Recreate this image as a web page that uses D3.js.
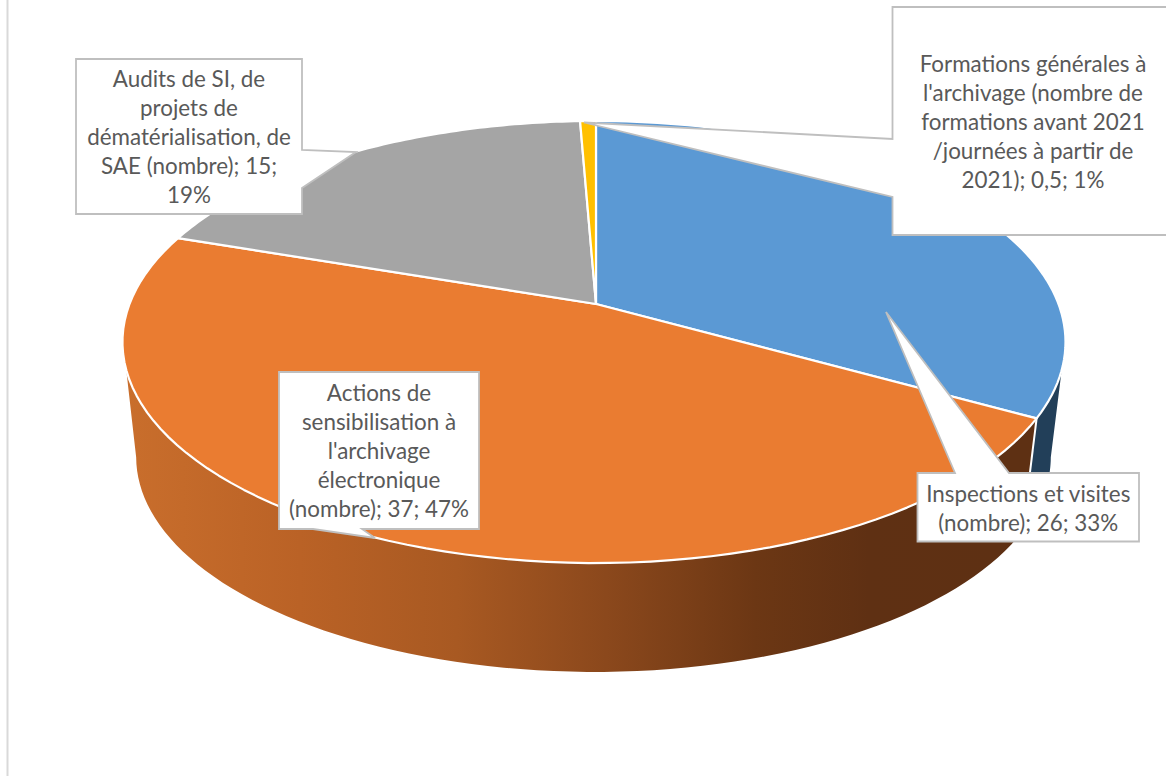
<!DOCTYPE html>
<html lang="fr">
<head>
<meta charset="utf-8">
<title>Camembert 3D</title>
<script src="https://cdn.jsdelivr.net/npm/d3@7"></script>
<style>
html,body{margin:0;padding:0;background:#fff;overflow:hidden}
svg{display:block}
text{font-family:Lato,"Open Sans",sans-serif;font-size:22.4px;fill:#595959;text-anchor:middle}
</style>
</head>
<body>
<svg id="chart" width="1166" height="776"></svg>
<script>
const categories = [
  "Inspections et visites (nombre)",
  "Actions de sensibilisation à l'archivage électronique (nombre)",
  "Audits de SI, de projets de dématérialisation, de SAE (nombre)",
  "Formations générales à l'archivage (nombre de formations avant 2021 /journées à partir de 2021)"
];
const values = [26, 37, 15, 0.5];
const topColors = ["#5B99D4", "#EA7C31", "#A5A5A5", "#FFC000"];
const labelLines = [
  ["Inspections et visites", "(nombre); 26; 33%"],
  ["Actions de", "sensibilisation à", "l'archivage", "électronique", "(nombre); 37; 47%"],
  ["Audits de SI, de", "projets de", "dématérialisation, de", "SAE (nombre); 15;", "19%"],
  ["Formations générales à", "l'archivage (nombre de", "formations avant 2021", "/journées à partir de", "2021); 0,5; 1%"]
];

const svg = d3.select("#chart");
const rad = d => d * Math.PI / 180;

// perspective projection of the disc
const persp = 0.172;
const project = (p, th) => {
  const w = 1 + persp * Math.cos(th), s = Math.sin(th);
  return [p.cx + (s < 0 ? p.aL : p.aR) * s / w, p.cy - p.b * Math.cos(th) / w];
};
const topDisc = {cx: 596, cy: 304, aL: 466.5, aR: 462.5, b: 214.5};
const lowDisc = {cx: 595, cy: 420, aL: 452, aR: 449, b: 208.6};

const sampled = (p, a0, a1) => d3.range(0, 81).map(i => project(p, a0 + (a1 - a0) * i / 80));
const line = d3.line();

const arcs = d3.pie().sort(null).value(d => d)(values);

// gradient of the orange wall
const defs = svg.append("defs");
const grad = defs.append("linearGradient").attr("id", "wall")
  .attr("gradientUnits", "userSpaceOnUse")
  .attr("x1", 125).attr("x2", 1000).attr("y1", 0).attr("y2", 0);
[[0, "#C96E2C"], [0.2, "#BA6226"], [0.38, "#A85922"], [0.55, "#8B481C"], [0.72, "#6C3714"], [0.85, "#5F3013"], [1, "#5E3013"]]
  .forEach(([o, c]) => grad.append("stop").attr("offset", o).attr("stop-color", c));

// page edge
svg.append("line").attr("x1", 7.5).attr("x2", 7.5).attr("y1", 0).attr("y2", 776)
  .attr("stroke", "#D9D9D9").attr("stroke-width", 2);

// visible walls: silhouette angles on each disc, then the slice boundary
const boundary = arcs[0].endAngle;
const wallBlue = [...sampled(topDisc, rad(107), boundary), ...sampled(lowDisc, boundary, rad(100))];
const wallOrange = [...sampled(topDisc, boundary, rad(253)), ...sampled(lowDisc, rad(260), boundary)];
svg.append("path").attr("d", line(wallBlue) + "Z").attr("fill", "#223F59");
svg.append("path").attr("d", line(wallOrange) + "Z").attr("fill", "url(#wall)");
// white seam between the walls
svg.append("path").attr("d", line([project(topDisc, boundary), project(lowDisc, boundary)]))
  .attr("stroke", "#fff").attr("stroke-width", 2).attr("fill", "none");

// top face
svg.append("g").selectAll("path").data(arcs).join("path")
  .attr("d", d => line([[topDisc.cx, topDisc.cy], ...sampled(topDisc, d.startAngle, d.endAngle)]) + "Z")
  .attr("fill", (d, i) => topColors[i])
  .attr("stroke", "#fff").attr("stroke-width", 2.2).attr("stroke-linejoin", "round");

// callouts: outline = box with a wedge, text centred
const callouts = [
  {box: [917.5, 473, 1139, 541.5], wedge: [[955, 473], [886, 312], [1009, 473]], side: "top", line0: 501.5},
  {box: [279, 372, 479, 529], wedge: [[362, 529], [375, 538], [313, 529]], side: "bottom", line0: 400.5},
  {box: [76, 59, 302, 214], wedge: [[302, 150], [356, 152], [302, 188]], side: "right", line0: 86.5},
  {box: [892.5, 7, 1180, 235], wedge: [[892.5, 197], [584, 122.5], [892.5, 139]], side: "left", line0: 71.5, tx: 1033}
];
const outline = c => {
  const [x0, y0, x1, y1] = c.box;
  const w = c.wedge;
  if (c.side === "top") return [[x0, y0], ...w, [x1, y0], [x1, y1], [x0, y1]];
  if (c.side === "right") return [[x0, y0], [x1, y0], ...w, [x1, y1], [x0, y1]];
  if (c.side === "bottom") return [[x0, y0], [x1, y0], [x1, y1], ...w, [x0, y1]];
  return [[x0, y0], [x1, y0], [x1, y1], [x0, y1], ...w];
};
const lh = 29;
const g = svg.append("g").selectAll("g").data(callouts).join("g");
g.append("path").attr("d", c => line(outline(c)) + "Z")
  .attr("fill", "#fff").attr("stroke", "#BFBFBF").attr("stroke-width", 1.8).attr("stroke-linejoin", "miter");
g.each(function (c, i) {
  const tx = c.tx !== undefined ? c.tx : (c.box[0] + c.box[2]) / 2;
  d3.select(this).selectAll("text").data(labelLines[i]).join("text")
    .attr("x", tx).attr("y", (d, j) => c.line0 + j * lh).text(d => d);
});
</script>
</body>
</html>
